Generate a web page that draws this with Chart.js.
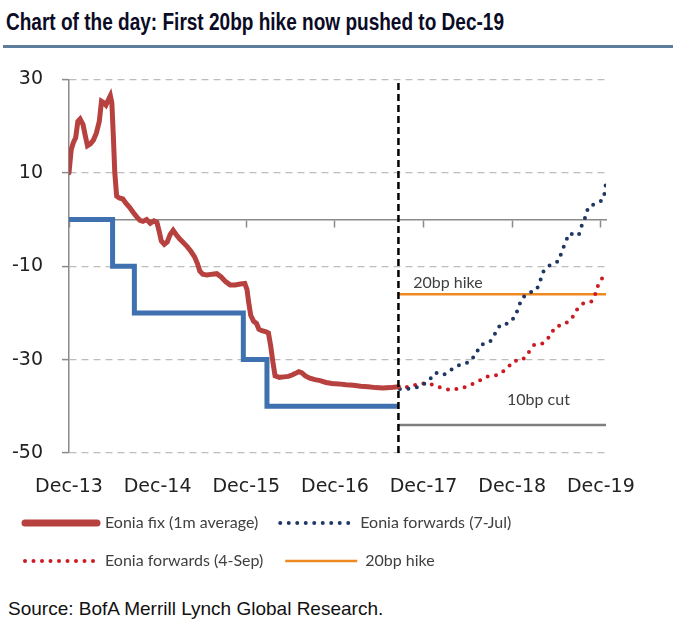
<!DOCTYPE html>
<html>
<head>
<meta charset="utf-8">
<script src="https://cdn.jsdelivr.net/npm/chart.js@4.4.1/dist/chart.umd.min.js"></script>
<style>
  html, body { margin: 0; padding: 0; background: #fff; }
  body { width: 673px; height: 638px; position: relative; overflow: hidden; }
  #title { position: absolute; left: 6px; top: 11px; font: bold 23px/23px 'Liberation Sans Narrow', 'Liberation Sans', Arial, sans-serif; color: #0b0b26; white-space: nowrap; transform-origin: 0 0; }
  #rule { position: absolute; left: 3px; top: 45px; width: 670px; height: 3px; background: #5e7c9b; }
  #wrap { position: absolute; left: 0; top: 49px; width: 673px; height: 530px; }
  #source { position: absolute; left: 8px; top: 599px; font: 19px/19px 'Liberation Sans', Arial, sans-serif; color: #111; white-space: nowrap; }
</style>
</head>
<body>
<div id="title">Chart of the day: First 20bp hike now pushed to Dec-19</div>
<div id="rule"></div>
<div id="wrap"><canvas id="chart"></canvas></div>
<div id="source">Source: BofA Merrill Lynch Global Research.</div>
<script>
// x values are months after Dec-13
const xTickLabels = ['Dec-13', 'Dec-14', 'Dec-15', 'Dec-16', 'Dec-17', 'Dec-18', 'Dec-19'];

const fixMonths = [0, 0.3, 0.6, 0.9, 1.2, 1.5, 1.9, 2.2, 2.5, 2.9, 3.3, 3.7, 4.1, 4.4, 4.7, 5.0, 5.3, 5.6, 5.8, 6.0, 6.2, 6.45,
  6.8, 7.3, 7.7, 8.2, 8.7, 9.2, 9.6, 10.0, 10.5, 11.0, 11.5, 11.9, 12.2, 12.5, 12.9, 13.3, 13.7, 14.1, 14.5, 15.0,
  15.5, 16.0, 16.5, 17.0, 17.4, 17.7, 18.1, 18.7, 19.4, 20.0, 20.6, 21.2, 21.8, 22.5, 23.2, 23.8, 24.1, 24.3, 24.6,
  25.0, 25.4, 25.7, 26.1, 26.6, 27.0, 27.3, 27.6, 27.9, 28.5, 29.1, 29.7, 30.2, 30.6, 31.1, 31.5, 32.0, 32.6, 33.3,
  34.0, 34.8, 35.6, 36.5, 37.5, 38.5, 39.5, 40.5, 41.5, 42.5, 43.5, 44.6];
const fixValues = [10, 15, 16.5, 17.5, 21, 21.5, 20.3, 18, 15.8, 16.2, 17, 18.5, 21, 25.3, 25, 24.5, 25.5, 26.5, 25, 18, 10, 5,
  4.6, 4.4, 3.5, 2.6, 1.5, 0.5, -0.2, -0.4, 0, -0.8, -0.3, -0.6, -2.5, -4.6, -5.3, -4.8, -3.2, -2.3, -3.2, -4.2,
  -5, -5.8, -6.8, -8, -9.5, -11, -11.7, -11.9, -11.7, -11.6, -12.3, -13.3, -14, -14, -13.8, -13.7, -15, -17.5, -20.5,
  -21.8, -22.3, -23.5, -23.8, -24, -24.3, -27, -30.5, -33.5, -33.8, -33.7, -33.6, -33.3, -33, -32.6, -32.8, -33.5, -34, -34.3,
  -34.5, -34.9, -35.1, -35.2, -35.4, -35.5, -35.7, -35.8, -36, -36.1, -36, -35.8];

const depoMonths = [0, 5.9, 8.85, 23.6, 26.8, 44.6];
const depoValues = [0, -10, -20, -30, -40, -40];

const julMonths = [44.8, 46.2, 47.5, 48.7, 49.6, 50.7, 51.8, 53.0, 54.3, 55.1, 55.7, 57.0, 57.7, 58.4, 59.5, 60.4, 61.3,
  62.2, 63.3, 63.8, 64.2, 65.1, 66.3, 66.7, 67.7, 69.0, 69.4, 69.9, 70.3, 71.4, 72.3, 72.6, 72.7];
const julValues = [-36.3, -36.2, -35.8, -34.5, -32.8, -33.3, -32.1, -31, -30.5, -28.7, -26.9, -26.2, -24.4, -22.5, -22.3, -20.8, -16.9,
  -15.7, -15.1, -13.1, -11.2, -9.8, -8.9, -6.9, -3, -3.4, -1.4, 0.5, 2.7, 3.5, 4.2, 6.3, 8.4];

const sepMonths = [44.6, 46.2, 47.5, 48.9, 50.3, 51.6, 53.0, 54.3, 55.7, 56.8, 58.1, 59.3, 60.2, 61.4, 62.2, 63.0, 64.2,
  65.1, 65.8, 67.0, 68.0, 68.7, 69.6, 70.7, 71.3, 71.7, 72.4, 72.7];
const sepValues = [-36, -35.8, -35.1, -35.2, -36, -36.5, -36.2, -35.5, -34.4, -33.5, -33.3, -31.9, -30.3, -30.1, -28.5, -26.8, -26.5,
  -25, -23, -22.5, -21.4, -19.4, -18, -17.6, -15.8, -13.7, -12.1, -11.3];

const hikeMonths = [44.6, 72.7];
const hikeValues = [-16, -16];
const cutMonths = [44.6, 72.7];
const cutValues = [-44, -44];
const markerMonths = [44.6, 44.6];
const markerValues = [-50, 30];

const noteTexts = ['20bp hike', '10bp cut'];
const noteMonths = [46.6, 59.3];
const noteValues = [-13.6, -38.7];

const legendLineWidths = [7, 4, 4, 2.5];

const pts = (xs, ys) => xs.map((x, i) => ({ x, y: ys[i] }));

// fit the title to the reference width whatever narrow font is present
(function () {
  const t = document.getElementById('title');
  const w = t.getBoundingClientRect().width;
  t.style.transform = 'scaleX(' + (498 / w) + ')';
})();

Chart.defaults.font.family = "'DejaVu Sans', Verdana, sans-serif";
Chart.defaults.color = '#222';

const notesPlugin = {
  id: 'notes',
  afterDatasetsDraw(chart) {
    const { ctx, scales: { x, y } } = chart;
    ctx.save();
    ctx.font = '16px Lato';
    ctx.fillStyle = '#404040';
    ctx.textBaseline = 'middle';
    noteTexts.forEach((t, i) => ctx.fillText(t, x.getPixelForValue(noteMonths[i]), y.getPixelForValue(noteValues[i])));
    ctx.restore();
  }
};

const dotted = { borderDash: [0, 8.5], borderCapStyle: 'round', borderWidth: 4 };

new Chart(document.getElementById('chart'), {
  type: 'line',
  data: {
    datasets: [
      { label: 'Eonia fix (1m average)', data: pts(fixMonths, fixValues), borderColor: '#b7413e', borderWidth: 5, borderCapStyle: 'round' },
      { label: 'Eonia forwards (7-Jul)', data: pts(julMonths, julValues), borderColor: '#1f3763', ...dotted },
      { label: 'Eonia forwards (4-Sep)', data: pts(sepMonths, sepValues), borderColor: '#cc1a22', ...dotted },
      { label: '20bp hike', data: pts(hikeMonths, hikeValues), borderColor: '#ef8a22', borderWidth: 2.5 },
      { label: 'Deposit rate', data: pts(depoMonths, depoValues), borderColor: '#3f70b0', borderWidth: 5, stepped: 'before' },
      { label: '10bp cut', data: pts(cutMonths, cutValues), borderColor: '#7f7f7f', borderWidth: 2.5 },
      { label: 'marker', data: pts(markerMonths, markerValues), borderColor: '#000', borderWidth: 2.5, borderDash: [7, 4], order: -1 },
    ].map(d => Object.assign({ xAxisID: 'x', pointRadius: 0, tension: 0, fill: false }, d)),
  },
  options: {
    responsive: true,
    maintainAspectRatio: false,
    animation: false,
    // the y ticks' own padding already keeps the top clear
    layout: { padding: { top: 0, right: 67, left: 3, bottom: 0 } },
    plugins: {
      tooltip: { enabled: false },
      legend: {
        position: 'bottom',
        align: 'start',
        labels: {
          usePointStyle: true,
          pointStyle: 'line',
          pointStyleWidth: 72,
          padding: 22,
          font: { family: 'Lato', size: 16 },
          color: '#404040',
          generateLabels: chart => chart.data.datasets.slice(0, 4).map((ds, i) => ({
            text: ds.label,
            strokeStyle: ds.borderColor,
            fillStyle: ds.borderColor,
            fontColor: '#404040',
            lineWidth: legendLineWidths[i],
            lineDash: ds.borderDash || [],
            lineCap: i === 0 ? 'round' : (ds.borderCapStyle || 'butt'),
            pointStyle: 'line',
            hidden: false,
            datasetIndex: i,
          })),
        },
      },
    },
    scales: {
      x: {
        type: 'linear',
        min: 0,
        max: 72.7,
        afterFit: s => { s.height = 40; },
        grid: { display: false, drawTicks: false },
        border: { display: false },
        ticks: { stepSize: 12, includeBounds: false, padding: 23, font: { size: 19 }, maxRotation: 0, autoSkip: false,
          callback: v => xTickLabels[v / 12] },
      },
      x0: {
        type: 'linear',
        position: { y: 0 },
        min: 0,
        max: 72.7,
        grid: { drawOnChartArea: false, drawTicks: true, tickLength: 7, tickColor: '#8a8a8a', tickWidth: 1.5 },
        border: { color: '#8a8a8a', width: 1.5 },
        ticks: { stepSize: 12, includeBounds: false, display: false },
      },
      y: {
        min: -50,
        max: 30,
        afterFit: s => { s.width = 66; },
        grid: { color: '#bdbdbd', lineWidth: 1.2, tickLength: 7, tickColor: '#8a8a8a', tickWidth: 1.5, tickBorderDash: [] },
        border: { color: '#8a8a8a', width: 1.5, dash: [7, 5] },
        ticks: { stepSize: 20, padding: 19, font: { size: 19 } },
      },
    },
  },
  plugins: [notesPlugin],
});
</script>
</body>
</html>
